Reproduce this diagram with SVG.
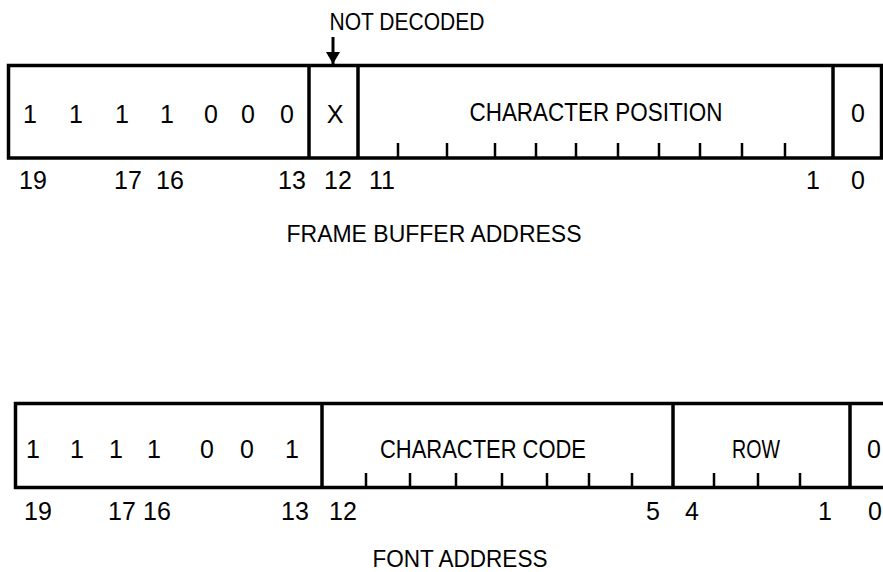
<svg xmlns="http://www.w3.org/2000/svg" width="883" height="572" viewBox="0 0 883 572">
<defs>
<style>
.box{fill:none;stroke:#000;stroke-width:3.5}
.div{stroke:#000;stroke-width:3.5}
.tick{stroke:#000;stroke-width:2.5}
text{font-family:"Liberation Sans",Arial,sans-serif;fill:#000;text-anchor:middle}
.v{font-size:25px}
.lbl{font-size:25px}
.ttl{font-size:24px}
</style>
<marker id="ah" viewBox="0 0 12 14" refX="12" refY="7" markerWidth="12" markerHeight="14" markerUnits="userSpaceOnUse" orient="auto">
<path d="M0,0 L12,7 L0,14 z" fill="#000"/>
</marker>
</defs>
<rect width="883" height="572" fill="#fff"/>

<g id="frame-buffer-address">
<rect class="box" x="8.5" y="65.5" width="873" height="92.5"/>
<line class="div" x1="309" y1="65" x2="309" y2="158"/>
<line class="div" x1="358" y1="65" x2="358" y2="158"/>
<line class="div" x1="833" y1="65" x2="833" y2="158"/>
<g id="fb-prefix" class="v">
<text x="30" y="123">1</text><text x="76" y="123">1</text><text x="122" y="123">1</text><text x="167" y="123">1</text>
<text x="211" y="123">0</text><text x="248" y="123">0</text><text x="287" y="123">0</text>
</g>
<text id="fb-x" class="v" x="335" y="123">X</text>
<g id="fb-charpos">
<text class="v" x="596" y="121" textLength="253" lengthAdjust="spacingAndGlyphs">CHARACTER POSITION</text>
<line class="tick" x1="398" y1="143" x2="398" y2="158"/><line class="tick" x1="447" y1="143" x2="447" y2="158"/>
<line class="tick" x1="495" y1="143" x2="495" y2="158"/><line class="tick" x1="536" y1="143" x2="536" y2="158"/>
<line class="tick" x1="576" y1="143" x2="576" y2="158"/><line class="tick" x1="618" y1="143" x2="618" y2="158"/>
<line class="tick" x1="659" y1="143" x2="659" y2="158"/><line class="tick" x1="700" y1="143" x2="700" y2="158"/>
<line class="tick" x1="742" y1="143" x2="742" y2="158"/><line class="tick" x1="785" y1="143" x2="785" y2="158"/>
</g>
<text id="fb-bit0" class="v" x="858" y="122">0</text>
<g id="fb-bits" class="lbl">
<text x="33" y="189">19</text><text x="128" y="189">17</text><text x="170" y="189">16</text>
<text x="292" y="189">13</text><text x="338" y="189">12</text><text x="382" y="189">11</text>
<text x="813" y="189">1</text><text x="858" y="189">0</text>
</g>
<text id="fb-title" class="ttl" x="434" y="242" textLength="295" lengthAdjust="spacingAndGlyphs">FRAME BUFFER ADDRESS</text>
</g>

<g id="not-decoded">
<text class="ttl" x="407" y="30" textLength="155" lengthAdjust="spacingAndGlyphs">NOT DECODED</text>
</g>

<g id="connectors">
<line x1="333" y1="37" x2="333" y2="64" stroke="#000" stroke-width="3" marker-end="url(#ah)"/>
</g>

<g id="font-address">
<path class="box" d="M883,403.5 H15.5 V487.5 H883"/>
<line class="div" x1="322" y1="403" x2="322" y2="488"/>
<line class="div" x1="673" y1="403" x2="673" y2="488"/>
<line class="div" x1="850" y1="403" x2="850" y2="488"/>
<g id="fa-prefix" class="v">
<text x="33" y="458">1</text><text x="77" y="458">1</text><text x="116" y="458">1</text><text x="154" y="458">1</text>
<text x="207" y="458">0</text><text x="247" y="458">0</text><text x="292" y="458">1</text>
</g>
<g id="fa-charcode">
<text class="v" x="483" y="458" textLength="206" lengthAdjust="spacingAndGlyphs">CHARACTER CODE</text>
<line class="tick" x1="366" y1="473" x2="366" y2="488"/><line class="tick" x1="410" y1="473" x2="410" y2="488"/>
<line class="tick" x1="456" y1="473" x2="456" y2="488"/><line class="tick" x1="502" y1="473" x2="502" y2="488"/>
<line class="tick" x1="547" y1="473" x2="547" y2="488"/><line class="tick" x1="589" y1="473" x2="589" y2="488"/>
<line class="tick" x1="632" y1="473" x2="632" y2="488"/>
</g>
<g id="fa-row">
<text class="v" x="756" y="458" textLength="48" lengthAdjust="spacingAndGlyphs">ROW</text>
<line class="tick" x1="714" y1="473" x2="714" y2="488"/><line class="tick" x1="758" y1="473" x2="758" y2="488"/>
<line class="tick" x1="800" y1="473" x2="800" y2="488"/>
</g>
<text id="fa-bit0" class="v" x="874" y="458">0</text>
<g id="fa-bits" class="lbl">
<text x="38" y="520">19</text><text x="122" y="520">17</text><text x="157" y="520">16</text>
<text x="295" y="520">13</text><text x="343" y="520">12</text>
<text x="653" y="520">5</text><text x="692" y="520">4</text>
<text x="825" y="520">1</text><text x="875" y="520">0</text>
</g>
<text id="fa-title" class="ttl" x="460" y="567" textLength="175" lengthAdjust="spacingAndGlyphs">FONT ADDRESS</text>
</g>
</svg>
